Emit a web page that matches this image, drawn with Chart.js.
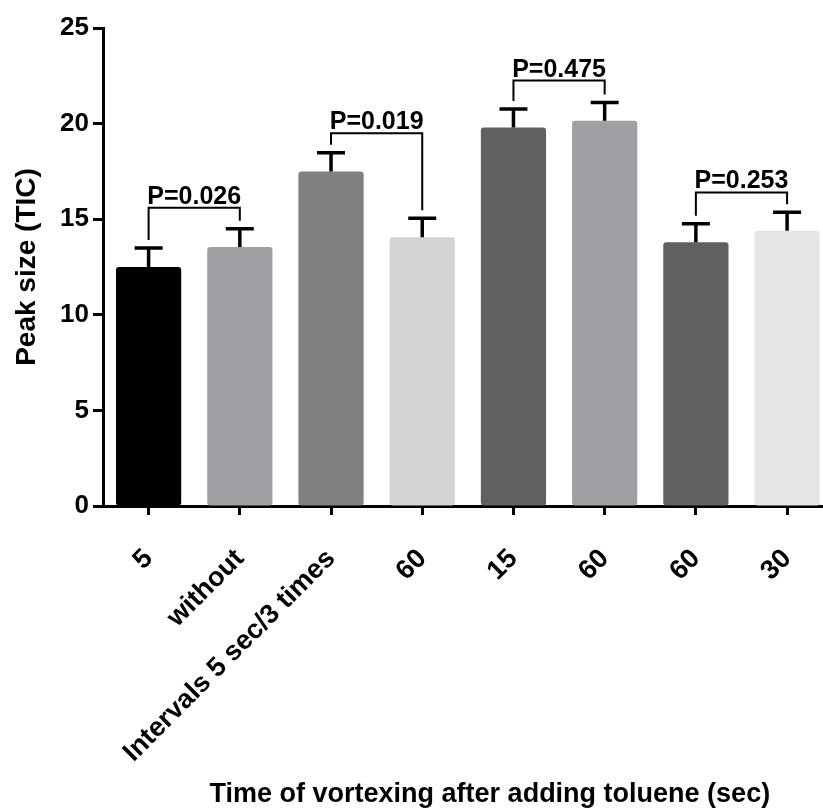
<!DOCTYPE html>
<html>
<head>
<meta charset="utf-8">
<title>Peak size vs vortexing time</title>
<script src="https://cdn.jsdelivr.net/npm/chart.js@4"></script>
<style>
  html, body { margin: 0; padding: 0; background: #fff; overflow: hidden; }
  #wrap { position: relative; width: 838px; height: 810px; }
</style>
</head>
<body>
<div id="wrap"><canvas id="chart"></canvas></div>
<script>
/* ---------- dados ---------- */
const categories = ['5', 'without', 'Intervals 5 sec/3 times', '60', '15', '60', '60', '30'];
const means = [12.5, 13.55, 17.5, 14.05, 19.8, 20.15, 13.8, 14.4];
const errors = [1.0, 0.95, 0.98, 1.0, 0.97, 0.96, 0.96, 0.96];
const yTicks = [0, 5, 10, 15, 20, 25];

// comparações (pares de barras, rótulo P e altura do colchete em unidades do eixo)
const pairs = [[0, 1], [2, 3], [4, 5], [6, 7]];
const pLabels = ['P=0.026', 'P=0.019', 'P=0.475', 'P=0.253'];
const bracketLevels = [15.6, 19.5, 22.25, 16.4];

const barColors = ['#000000', '#a0a0a4', '#808080', '#d4d4d4', '#606060', '#a0a0a4', '#606060', '#e6e6e6'];
const FONT = "'Liberation Sans', Arial, sans-serif";

/* ---------- barras de erro (só para cima) ---------- */
const errorBars = {
  id: 'errorBars',
  afterDatasetsDraw(chart) {
    const { ctx, scales: { y } } = chart;
    const meta = chart.getDatasetMeta(0);
    ctx.save();
    ctx.strokeStyle = '#000';
    ctx.lineWidth = 3.5;
    meta.data.forEach((bar, i) => {
      const top = y.getPixelForValue(means[i] + errors[i]);
      ctx.beginPath();
      ctx.moveTo(bar.x, bar.y);
      ctx.lineTo(bar.x, top);
      ctx.moveTo(bar.x - 14, top);
      ctx.lineTo(bar.x + 14, top);
      ctx.stroke();
    });
    ctx.restore();
  }
};

/* ---------- colchetes com valor de P ---------- */
const brackets = {
  id: 'brackets',
  afterDatasetsDraw(chart) {
    const { ctx, scales: { y } } = chart;
    const meta = chart.getDatasetMeta(0);
    ctx.save();
    ctx.strokeStyle = '#000';
    ctx.fillStyle = '#000';
    ctx.lineWidth = 2;
    ctx.font = `bold 25px ${FONT}`;
    ctx.textAlign = 'center';
    ctx.textBaseline = 'alphabetic';
    pairs.forEach(([a, b], k) => {
      const xa = meta.data[a].x, xb = meta.data[b].x;
      const yb = y.getPixelForValue(bracketLevels[k]);
      const ea = y.getPixelForValue(means[a] + errors[a]) - 8;
      const eb = y.getPixelForValue(means[b] + errors[b]) - 8;
      ctx.beginPath();
      ctx.moveTo(xa, ea);
      ctx.lineTo(xa, yb);
      ctx.lineTo(xb, yb);
      ctx.lineTo(xb, eb);
      ctx.stroke();
      ctx.fillText(pLabels[k], (xa + xb) / 2, yb - 4);
    });
    ctx.restore();
  }
};

/* ---------- título do eixo x ---------- */
const xTitle = {
  id: 'xTitle',
  afterDraw(chart) {
    const { ctx, chartArea } = chart;
    ctx.save();
    ctx.fillStyle = '#000';
    ctx.font = `bold 27px ${FONT}`;
    ctx.textAlign = 'center';
    ctx.textBaseline = 'alphabetic';
    ctx.fillText('Time of vortexing after adding toluene (sec)', (chartArea.left + chartArea.right) / 2 + 22, 802);
    ctx.restore();
  }
};

new Chart(document.getElementById('chart'), {
  type: 'bar',
  data: {
    labels: categories,
    datasets: [{
      data: means,
      backgroundColor: barColors,
      borderWidth: 0,
      borderRadius: 3,
      borderSkipped: false,
      barPercentage: 0.715,
      categoryPercentage: 1
    }]
  },
  options: {
    responsive: true,
    maintainAspectRatio: false,
    animation: false,
    layout: { padding: { top: 28, right: 0, bottom: 0, left: 0 } },
    plugins: { legend: { display: false }, tooltip: { enabled: false } },
    scales: {
      x: {
        grid: { display: true, offset: false, drawOnChartArea: false, drawTicks: true, tickLength: 9, tickWidth: 3, tickColor: '#000' },
        border: { display: true, width: 3, color: '#000' },
        ticks: {
          color: '#000', font: { family: FONT, size: 27, weight: 'bold' },
          minRotation: 45, maxRotation: 45, padding: 28, autoSkip: false
        },
        afterFit: (s) => { s.height = 304; }
      },
      y: {
        min: 0, max: 25,
        afterBuildTicks: (s) => { s.ticks = yTicks.map(v => ({ value: v })); },
        grid: { display: true, drawOnChartArea: false, drawTicks: true, tickLength: 10, tickWidth: 3, tickColor: '#000' },
        border: { display: true, width: 3, color: '#000' },
        ticks: { color: '#000', font: { family: FONT, size: 26, weight: 'bold' }, padding: 4 },
        title: {
          display: true, text: 'Peak size (TIC)', color: '#000',
          font: { family: FONT, size: 28, weight: 'bold' }, padding: { top: 10, bottom: 0 }
        },
        afterFit: (s) => { s.width = 103; }
      }
    }
  },
  plugins: [errorBars, brackets, xTitle]
});
</script>
</body>
</html>
